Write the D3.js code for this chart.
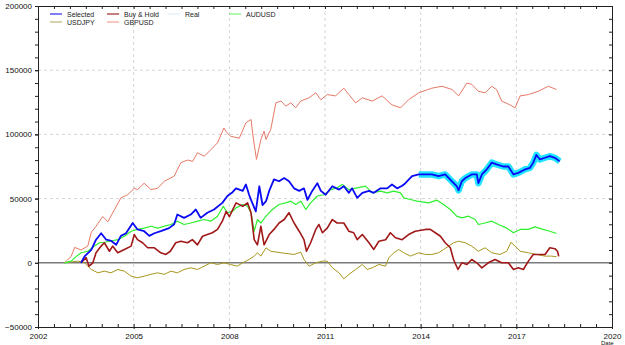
<!DOCTYPE html>
<html>
<head>
<meta charset="utf-8">
<script src="https://cdn.jsdelivr.net/npm/d3@7"></script>
<style>
  body { margin: 0; background: #fff; }
  svg { display: block; font-family: "Liberation Sans", Arial, sans-serif; }
</style>
</head>
<body>
<div id="chart"></div>
<script>
// values: [year, value in thousands]
const gbpusd = [
  [2002.83,0],[2003.04,5],[2003.15,12],[2003.35,10],[2003.56,13],[2003.67,23.6],[2003.82,28.5],
  [2004.03,36],[2004.19,32],[2004.4,41.5],[2004.6,50.6],[2004.81,53],[2005.02,58],[2005.12,57],
  [2005.33,62],[2005.54,57],[2005.75,58],[2005.96,63.5],[2006.27,67.5],[2006.48,78],[2006.69,80],
  [2006.85,79],[2007,85.7],[2007.21,83],[2007.42,88],[2007.63,93.5],[2007.83,105],[2007.9,102],
  [2008.04,98.6],[2008.31,97],[2008.52,109],[2008.68,111.6],[2008.73,101],[2008.85,80.5],
  [2008.99,96],[2009.09,102.5],[2009.15,96],[2009.3,104],[2009.46,124.6],[2009.62,126],
  [2009.77,122],[2009.93,124.6],[2010.08,120.7],[2010.24,126],[2010.5,128.5],[2010.71,132.4],
  [2010.87,127],[2011.07,131],[2011.33,130],[2011.59,136],[2011.75,131],[2011.96,124.6],
  [2012.17,128.5],[2012.48,126],[2012.79,130],[2013.1,123],[2013.37,120.7],[2013.62,127],
  [2013.94,132.4],[2014.35,136],[2014.67,137.5],[2014.98,135],[2015.19,130],[2015.45,140],
  [2015.6,139],[2015.81,133.6],[2016.02,132.4],[2016.23,137.5],[2016.38,135],[2016.54,126],
  [2016.8,123],[2016.96,120.7],[2017.12,130],[2017.38,131],[2017.69,133.6],[2018,137.5],[2018.26,135]
];

const usdjpy = [
  [2002.83,0],[2003.25,1.3],[2003.46,0],[2003.67,-5.2],[2003.88,-7.8],[2004.08,-6.5],[2004.29,-7.8],
  [2004.5,-5.2],[2004.71,-6.5],[2004.92,-10.4],[2005.12,-11.7],[2005.33,-10.4],[2005.54,-9],
  [2005.75,-7.8],[2005.96,-9],[2006.17,-6.5],[2006.37,-7.8],[2006.58,-5.2],[2006.79,-3.9],
  [2007,-5.2],[2007.21,-2.6],[2007.42,0],[2007.63,-1.3],[2007.83,0],[2008.04,-1.3],[2008.25,-2.6],
  [2008.42,0],[2008.62,2.6],[2008.78,5.2],[2008.88,7.8],[2008.99,5.2],[2009.15,11.7],[2009.3,9],
  [2009.62,7.8],[2010.03,6.5],[2010.24,8.3],[2010.34,2.6],[2010.5,-2.6],[2010.71,0],[2010.92,1.3],
  [2011.07,1.3],[2011.23,-3.9],[2011.44,-7.8],[2011.59,-12.5],[2011.75,-9],[2011.96,-5.2],
  [2012.17,-1.3],[2012.32,-5.2],[2012.48,-3.9],[2012.69,-1.3],[2012.9,-2.6],[2013,3.9],
  [2013.16,7.8],[2013.31,10.4],[2013.47,7.8],[2013.68,5.2],[2013.94,7.8],[2014.15,6.5],
  [2014.35,6.5],[2014.56,7.8],[2014.72,10.4],[2014.88,13],[2015.03,15.6],[2015.19,16.8],
  [2015.4,15.6],[2015.6,13],[2015.81,9],[2016.02,11.7],[2016.23,7.8],[2016.49,6.5],[2016.7,9],
  [2016.83,16],[2016.96,13],[2017.12,9],[2017.38,7.8],[2017.63,6.5],[2017.9,5.2],[2018.1,5.2],[2018.26,4.7]
];

const audusd = [
  [2002.83,0],[2003.04,1.3],[2003.2,5],[2003.35,7.8],[2003.56,9],[2003.77,13],[2003.93,15.6],
  [2004.08,16],[2004.29,17],[2004.5,18],[2004.71,20.7],[2004.92,24.6],[2005.12,26],[2005.33,27],
  [2005.54,28.5],[2005.75,27],[2005.96,28.5],[2006.17,29.8],[2006.37,32.4],[2006.58,29.8],
  [2006.79,31],[2007,32.4],[2007.21,33.7],[2007.42,32.4],[2007.63,36.3],[2007.81,44],[2007.94,39],
  [2008.1,40],[2008.21,42.8],[2008.42,45.4],[2008.57,44],[2008.68,39],[2008.78,24.6],[2008.88,33.7],
  [2008.99,31],[2009.15,36.3],[2009.35,41.5],[2009.56,45.4],[2009.77,46.7],[2009.93,48],
  [2010.08,45.4],[2010.24,48],[2010.4,41.5],[2010.55,46.7],[2010.76,52],[2010.97,53],[2011.18,57],
  [2011.38,58.4],[2011.54,61],[2011.75,57],[2012.01,58.4],[2012.27,59.7],[2012.48,54.5],
  [2012.74,55.8],[2012.95,54.5],[2013.16,55.8],[2013.37,54.5],[2013.47,50.6],[2013.68,49.3],
  [2013.88,48],[2014.25,46.7],[2014.51,48.8],[2014.72,45.4],[2014.93,41.5],[2015.13,36.3],
  [2015.29,35],[2015.5,36.3],[2015.71,33.7],[2015.81,29.8],[2016.02,31],[2016.23,32.4],
  [2016.44,29.8],[2016.7,27],[2016.91,23.4],[2017.12,26],[2017.38,26],[2017.58,28],[2017.84,26],
  [2018.05,24.6],[2018.26,22.8]
];

const buyHold = [
  [2003.35,0],[2003.51,4],[2003.6,-2.6],[2003.72,0],[2003.82,7.8],[2003.98,13],[2004.08,15.6],
  [2004.24,9],[2004.34,13],[2004.5,7.8],[2004.71,10.4],[2004.92,13],[2005.02,22],[2005.12,18],
  [2005.28,15.6],[2005.44,11.7],[2005.65,11.7],[2005.85,7.8],[2006.01,6.5],[2006.15,9],[2006.32,15.6],
  [2006.48,16.8],[2006.69,15.6],[2006.84,18],[2007,14],[2007.16,20.7],[2007.31,22],[2007.47,23.4],
  [2007.63,26],[2007.78,32.4],[2007.9,40],[2008,36],[2008.21,46.7],[2008.42,44],[2008.57,46.7],
  [2008.68,39],[2008.78,18],[2008.88,14],[2008.99,28.5],[2009.09,14],[2009.25,22],[2009.4,26],
  [2009.56,31],[2009.72,33.7],[2009.87,39],[2010.03,31],[2010.19,24.6],[2010.34,18],[2010.42,9],
  [2010.55,15.6],[2010.71,26],[2010.81,29.8],[2010.92,23.4],[2011.07,27],[2011.23,33.7],
  [2011.38,31],[2011.59,31],[2011.75,24.6],[2011.9,23.4],[2012.01,18],[2012.17,22],[2012.38,15.6],
  [2012.53,10.4],[2012.69,16.8],[2012.9,18],[2013.05,23.4],[2013.21,19.5],[2013.42,18],
  [2013.62,22],[2013.83,24.6],[2014.15,26],[2014.3,26],[2014.46,23.4],[2014.62,20.7],[2014.77,15.6],
  [2014.93,11.7],[2015.03,2.6],[2015.17,-5.2],[2015.29,0],[2015.45,-1.3],[2015.6,2.6],[2015.76,0],
  [2015.92,-3.9],[2016.12,0],[2016.33,2.6],[2016.54,0],[2016.75,0],[2016.91,-5.2],[2017.06,-3.9],
  [2017.22,-5.2],[2017.38,1.3],[2017.53,6.5],[2017.74,6.5],[2017.9,6.5],[2018.05,11.7],
  [2018.21,11],[2018.29,9],[2018.33,5]
];

const selected = [
  [2003.35,0],[2003.46,5],[2003.67,10],[2003.82,18],[2003.98,23],[2004.14,18],[2004.3,17],
  [2004.45,14],[2004.6,21],[2004.76,23],[2004.97,31],[2005.12,26],[2005.33,24.6],[2005.49,21],
  [2005.65,23],[2005.85,24.6],[2006.11,27],[2006.27,30],[2006.37,37.6],[2006.58,35],[2006.79,37.6],
  [2006.95,41.5],[2007.1,35],[2007.31,39],[2007.52,41.5],[2007.78,46.7],[2007.94,52],[2008.1,55],
  [2008.21,58],[2008.42,56],[2008.52,61],[2008.62,53],[2008.68,49],[2008.83,40],[2008.94,59.6],
  [2009.04,45],[2009.15,48],[2009.25,56],[2009.4,65],[2009.56,63.5],[2009.72,66],[2009.87,63.5],
  [2010.03,58],[2010.19,56],[2010.34,58],[2010.45,49],[2010.6,56],[2010.76,62],[2010.87,56],
  [2011.02,53],[2011.23,59.6],[2011.44,57],[2011.59,59.6],[2011.75,54.5],[2011.85,58],[2012.01,50.6],
  [2012.17,54.5],[2012.38,56],[2012.53,54.5],[2012.74,58],[2012.95,58],[2013.1,61],[2013.26,58],
  [2013.42,60],[2013.52,62],[2013.73,67.5],[2013.94,68.8],[2014.15,68.8],[2014.35,68.8],
  [2014.56,67.5],[2014.77,68.8],[2014.98,63.5],[2015.13,59.7],[2015.19,56.5],[2015.29,63.5],
  [2015.4,66],[2015.6,68.8],[2015.76,68.8],[2015.81,62],[2015.92,68.8],[2016.07,72.7],[2016.23,78],
  [2016.38,76.6],[2016.59,75],[2016.75,75],[2016.91,68.8],[2017.06,70],[2017.27,72.7],[2017.43,74],
  [2017.53,78],[2017.63,84],[2017.74,80.5],[2017.9,81.8],[2018.05,83],[2018.21,81.8],[2018.36,79]
];

// "Real" trading period, drawn as the glow under Selected
const realStart = 2013.75;
const real = selected.filter(d => d[0] >= realStart);

const legendItems = [
  {label: "Selected",   color: "#0000e8"},
  {label: "Buy & Hold", color: "#8b0000"},
  {label: "Real",       color: "#d8e8f6"},
  {label: "AUDUSD",     color: "#60f060"},
  {label: "USDJPY",     color: "#b0a050"},
  {label: "GBPUSD",     color: "#ec9080"}
];

const yearTicks = [2002, 2005, 2008, 2011, 2014, 2017, 2020];
const valueTicks = [-50000, 0, 50000, 100000, 150000, 200000];

const width = 625, height = 345;
const plot = {left: 38, right: 612, top: 6, bottom: 327};

const svg = d3.select("#chart").append("svg")
  .attr("width", width)
  .attr("height", height);

const x = d3.scaleLinear().domain([2002, 2020]).range([plot.left, plot.right]);
const y = d3.scaleLinear().domain([-50000, 200000]).range([plot.bottom, plot.top]);

// grid
const grid = svg.append("g").attr("stroke", "#d4d4d4").attr("stroke-dasharray", "3,3");
grid.selectAll("line.vx")
  .data(yearTicks.slice(1, -1))
  .join("line")
  .attr("x1", d => x(d)).attr("x2", d => x(d))
  .attr("y1", plot.top).attr("y2", plot.bottom);
grid.selectAll("line.hy")
  .data(valueTicks.filter(v => v > 0 && v < 200000))
  .join("line")
  .attr("x1", plot.left).attr("x2", plot.right)
  .attr("y1", d => y(d)).attr("y2", d => y(d));

// zero line
svg.append("line")
  .attr("x1", plot.left).attr("x2", plot.right)
  .attr("y1", y(0)).attr("y2", y(0))
  .attr("stroke", "#7a7a7a").attr("stroke-width", 1.5);

// series
const line = d3.line().x(d => x(d[0])).y(d => y(d[1] * 1000));

function drawSeries(pts, color, w) {
  svg.append("path")
    .datum(pts)
    .attr("fill", "none")
    .attr("stroke", color)
    .attr("stroke-width", w)
    .attr("stroke-linejoin", "round")
    .attr("d", line);
}

drawSeries(gbpusd, "#e67a66", 1);
drawSeries(usdjpy, "#a8961c", 1);
drawSeries(audusd, "#2ef02e", 1.2);
drawSeries(buyHold, "#a01818", 1.6);
drawSeries(real, "#20e4ff", 6.5);
drawSeries(selected, "#0a0af5", 1.8);

// axes
const axisColor = "#222";
const fmt = d3.format("d");

svg.append("g")
  .attr("transform", `translate(${plot.left},0)`)
  .call(d3.axisLeft(y).tickValues(valueTicks).tickFormat(fmt).tickSize(3).tickPadding(3))
  .call(g => g.select(".domain").attr("stroke", axisColor))
  .call(g => g.selectAll("text").attr("font-size", 8).attr("font-family", "Liberation Sans, Arial").attr("fill", "#111"));

svg.append("g")
  .attr("transform", `translate(${plot.left},0)`)
  .call(d3.axisLeft(y).ticks(25).tickFormat("").tickSize(3))
  .call(g => g.select(".domain").remove());

svg.append("g")
  .attr("transform", `translate(0,${plot.bottom})`)
  .call(d3.axisBottom(x).tickValues(yearTicks).tickFormat(fmt).tickSize(2).tickPadding(4))
  .call(g => g.select(".domain").attr("stroke", axisColor))
  .call(g => g.selectAll("text").attr("font-size", 8).attr("font-family", "Liberation Sans, Arial").attr("fill", "#111"));

// half-year ticks on the bottom, pointing up into the plot
svg.append("g")
  .attr("transform", `translate(0,${plot.bottom})`)
  .call(d3.axisBottom(x).ticks(36).tickFormat("").tickSize(-3))
  .call(g => g.select(".domain").remove());

// top and right frame, ticks inward
svg.append("g")
  .attr("transform", `translate(0,${plot.top})`)
  .call(d3.axisTop(x).ticks(36).tickFormat("").tickSize(-3))
  .call(g => g.select(".domain").attr("stroke", axisColor));

svg.append("g")
  .attr("transform", `translate(${plot.right},0)`)
  .call(d3.axisRight(y).ticks(25).tickFormat("").tickSize(-3))
  .call(g => g.select(".domain").attr("stroke", axisColor));

svg.selectAll(".tick line").attr("stroke", axisColor);

// axis title sits at the very bottom edge, under "2020"
svg.append("text")
  .attr("x", 601).attr("y", 345)
  .attr("font-size", 6).attr("fill", "#111")
  .text("Date");

// legend
const legend = svg.append("g").attr("font-size", 7);
const colX = [50, 107, 168, 229];
legendItems.forEach((d, i) => {
  const row = i < 4 ? 0 : 1;
  const col = i < 4 ? i : i - 4;
  const lx = colX[col], ly = 14 + row * 8;
  legend.append("line")
    .attr("x1", lx).attr("x2", lx + 12)
    .attr("y1", ly).attr("y2", ly)
    .attr("stroke", d.color).attr("stroke-width", 1);
  legend.append("text")
    .attr("x", lx + 17).attr("y", ly + 2.5)
    .attr("fill", "#222")
    .text(d.label);
});
</script>
</body>
</html>
